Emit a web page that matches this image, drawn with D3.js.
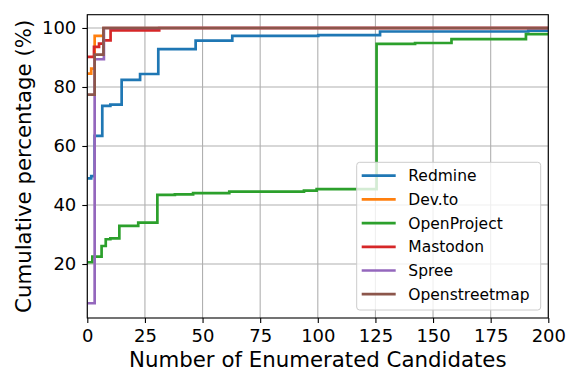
<!DOCTYPE html>
<html>
<head>
<meta charset="utf-8">
<script src="https://cdn.jsdelivr.net/npm/d3@7"></script>
<style>
  body { margin: 0; background: #fff; }
  text { font-family: "DejaVu Sans", sans-serif; fill: #000; }
</style>
</head>
<body>
<svg id="chart"></svg>
<script>
const WIDTH = 581;
const HEIGHT = 388;

// Plot area in pixels.
const LEFT = 87.3;
const RIGHT = 548.3;
const TOP = 14.7;
const BOTTOM = 318;

const names = ['Redmine', 'Dev.to', 'OpenProject', 'Mastodon', 'Spree', 'Openstreetmap'];
const colors = ['#1f77b4', '#ff7f0e', '#2ca02c', '#d62728', '#9467bd', '#8c564b'];

const xTicks = [0, 25, 50, 75, 100, 125, 150, 175, 200];
const yTicks = [20, 40, 60, 80, 100];

// Each series: [candidates, cumulative %], step after each point.
const redmine = [[0, 49.0], [1.7, 49.8], [3.2, 63.4], [6.5, 73.6], [10, 74.0], [14.9, 82.4],
  [22.9, 84.4], [30.8, 92.8], [47, 95.7], [62.9, 97.3], [100.2, 97.6], [127, 98.8],
  [191.3, 99.1], [200, 99.1]];
const devto = [[0, 84.5], [1.7, 86.2], [3.2, 97.3], [7, 100], [200, 100]];
const openProject = [[0, 20.6], [2.2, 22.5], [6.2, 26.1], [8, 28.4], [10, 28.7], [13.9, 32.9],
  [22.1, 34.0], [30.4, 43.4], [38, 43.6], [45.9, 44.0], [61.6, 44.5], [94, 44.9],
  [99.5, 45.4], [125.5, 94.6], [142.2, 94.9], [158, 96.2], [190.3, 97.9], [200, 97.9]];
const mastodon = [[0, 90.2], [2.9, 93.6], [5.1, 94.7], [7, 95.8], [10.1, 99.2], [31.2, 100], [200, 100]];
const spree = [[0, 6.7], [3.2, 89.4], [7.2, 100], [200, 100]];
const openstreetmap = [[0, 77.4], [3.2, 91.0], [7, 100], [200, 100]];

const seriesData = [redmine, devto, openProject, mastodon, spree, openstreetmap];

const svg = d3.select('#chart')
  .attr('width', WIDTH)
  .attr('height', HEIGHT)
  .attr('viewBox', `0 0 ${WIDTH} ${HEIGHT}`);

const x = d3.scaleLinear().domain([0, 200]).range([LEFT, RIGHT]);
const y = d3.scaleLinear().domain([1.7, 104.5]).range([BOTTOM, TOP]);

svg.append('defs').append('clipPath').attr('id', 'plot-clip')
  .append('rect')
  .attr('x', LEFT).attr('y', TOP)
  .attr('width', RIGHT - LEFT).attr('height', BOTTOM - TOP);

// Grid lines.
const grid = svg.append('g').attr('stroke', '#b0b0b0').attr('stroke-width', 1.1);
grid.selectAll('.vgrid').data(xTicks).join('line')
  .attr('x1', d => x(d)).attr('x2', d => x(d))
  .attr('y1', TOP).attr('y2', BOTTOM);
grid.selectAll('.hgrid').data(yTicks).join('line')
  .attr('x1', LEFT).attr('x2', RIGHT)
  .attr('y1', d => y(d)).attr('y2', d => y(d));

// Step lines.
const line = d3.line()
  .x(d => x(d[0]))
  .y(d => y(d[1]))
  .curve(d3.curveStepAfter);

svg.append('g').attr('clip-path', 'url(#plot-clip)')
  .selectAll('path').data(seriesData).join('path')
  .attr('d', line)
  .attr('fill', 'none')
  .attr('stroke', (d, i) => colors[i])
  .attr('stroke-width', 2.7)
  .attr('stroke-linejoin', 'miter');

// Axes.
const xAxis = d3.axisBottom(x).tickValues(xTicks).tickSize(5).tickPadding(6).tickSizeOuter(0);
const yAxis = d3.axisLeft(y).tickValues(yTicks).tickSize(5).tickPadding(6).tickSizeOuter(0);

const gx = svg.append('g').attr('transform', `translate(0,${BOTTOM})`).call(xAxis);
const gy = svg.append('g').attr('transform', `translate(${LEFT},0)`).call(yAxis);

[gx, gy].forEach(g => {
  g.select('.domain').remove();
  g.selectAll('.tick line').attr('stroke', '#000').attr('stroke-width', 1.1);
  g.selectAll('.tick text')
    .style('font-family', '"DejaVu Sans", sans-serif')
    .style('font-size', '18px')
    .attr('fill', '#000');
});

// Frame.
svg.append('rect')
  .attr('x', LEFT).attr('y', TOP)
  .attr('width', RIGHT - LEFT).attr('height', BOTTOM - TOP)
  .attr('fill', 'none')
  .attr('stroke', '#000')
  .attr('stroke-width', 1.1);

// Axis labels.
svg.append('text')
  .attr('x', (LEFT + RIGHT) / 2)
  .attr('y', 367.3)
  .attr('text-anchor', 'middle')
  .style('font-size', '21.3px')
  .text('Number of Enumerated Candidates');

svg.append('text')
  .attr('transform', `translate(30.6,${(TOP + BOTTOM) / 2}) rotate(-90)`)
  .attr('text-anchor', 'middle')
  .style('font-size', '21.3px')
  .text('Cumulative percentage (%)');

// Legend.
const legend = svg.append('g');
legend.append('rect')
  .attr('x', 356.7).attr('y', 162.3)
  .attr('width', 184).attr('height', 147.7)
  .attr('rx', 3)
  .attr('fill', '#fff')
  .attr('fill-opacity', 0.8)
  .attr('stroke', '#cccccc')
  .attr('stroke-width', 1);

const rows = legend.selectAll('.row').data(names).join('g')
  .attr('transform', (d, i) => `translate(0,${175.7 + i * 23.7})`);
rows.append('line')
  .attr('x1', 361.7).attr('x2', 395.7)
  .attr('stroke', (d, i) => colors[i])
  .attr('stroke-width', 2.7);
rows.append('text')
  .attr('x', 408.3)
  .attr('dy', '0.36em')
  .style('font-size', '15.5px')
  .text(d => d);
</script>
</body>
</html>
